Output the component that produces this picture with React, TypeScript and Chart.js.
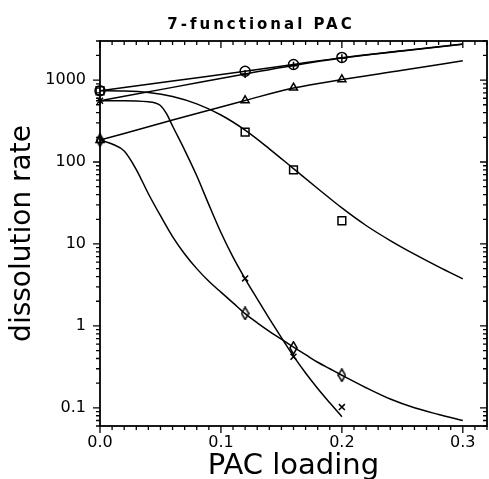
import React, { useEffect, useRef } from "react";
import { Chart, registerables } from "chart.js";

Chart.register(...registerables);

// ---------- axes ----------
const X_MIN = 0;
const X_MAX = 0.32;
const Y_MIN = 0.06;
const Y_MAX = 3000;
const xTickValues = [0, 0.1, 0.2, 0.3];
const yTickValues = [0.1, 1, 10, 100, 1000];

const titleText = "7-functional PAC";
const xTitle = "PAC loading";
const yTitle = "dissolution rate";

// ---------- measured points ----------
const circleX = [0, 0.12, 0.16, 0.2];
const circleY = [741, 1280, 1550, 1890];

const plusX = [0, 0.12, 0.16, 0.2];
const plusY = [560, 1190, 1500, 1850];

const triangleX = [0, 0.12, 0.16, 0.2];
const triangleY = [185, 565, 805, 1020];

const squareX = [0, 0.12, 0.16, 0.2];
const squareY = [741, 232, 80, 19.2];

const crossX = [0, 0.12, 0.16, 0.2];
const crossY = [560, 3.8, 0.42, 0.102];

const diamondX = [0, 0.12, 0.16, 0.2];
const diamondY = [185, 1.42, 0.54, 0.25];

// ---------- model curves ----------
const circleCurveX = [0, 0.06, 0.12, 0.16, 0.2, 0.25, 0.3];
const circleCurveY = [741, 975, 1280, 1545, 1880, 2280, 2750];

const plusCurveX = [0, 0.06, 0.12, 0.16, 0.2, 0.25, 0.3];
const plusCurveY = [560, 815, 1190, 1510, 1860, 2270, 2740];

const triangleCurveX = [0, 0.06, 0.12, 0.16, 0.2, 0.25, 0.3];
const triangleCurveY = [185, 325, 565, 800, 1015, 1315, 1720];

const squareCurveX = [0, 0.02, 0.04, 0.06, 0.08, 0.1, 0.12, 0.14, 0.16, 0.18, 0.2, 0.22, 0.24, 0.26, 0.28, 0.3];
const squareCurveY = [741, 736, 706, 630, 512, 375, 245, 145, 83, 47.5, 27.5, 16.8, 11.0, 7.5, 5.25, 3.75];

const crossCurveX = [0, 0.01, 0.02, 0.03, 0.04, 0.045, 0.05, 0.055, 0.06, 0.07, 0.08, 0.09, 0.1, 0.11, 0.12, 0.13, 0.14, 0.15, 0.16, 0.17, 0.18, 0.19, 0.2];
const crossCurveY = [560, 560, 560, 556, 543, 530, 490, 390, 275, 140, 68, 30.2, 13.8, 6.9, 3.76, 2.14, 1.23, 0.72, 0.427, 0.266, 0.172, 0.115, 0.078];

const diamondCurveX = [0, 0.01, 0.02, 0.03, 0.04, 0.05, 0.06, 0.07, 0.08, 0.09, 0.1, 0.11, 0.12, 0.13, 0.14, 0.15, 0.16, 0.17, 0.18, 0.19, 0.2, 0.22, 0.24, 0.26, 0.28, 0.3];
const diamondCurveY = [185, 166, 136, 81, 41, 22.1, 12.3, 7.55, 5.0, 3.5, 2.58, 1.91, 1.41, 1.09, 0.86, 0.69, 0.55, 0.445, 0.36, 0.3, 0.25, 0.176, 0.128, 0.1, 0.083, 0.07];

const pts = (xs: number[], ys: number[]) => xs.map((x, i) => ({ x, y: ys[i] }));

function makeDiamond(): HTMLCanvasElement {
  const c = document.createElement("canvas");
  c.width = 9;
  c.height = 14;
  const g = c.getContext("2d")!;
  g.strokeStyle = "#000";
  g.lineWidth = 1.5;
  g.beginPath();
  g.moveTo(4.5, 0.8);
  g.lineTo(8.1, 7);
  g.lineTo(4.5, 13.2);
  g.lineTo(0.9, 7);
  g.closePath();
  g.stroke();
  return c;
}

const framePlugin = {
  id: "frameTicks",
  afterDatasetsDraw(chart: any) {
    const { ctx, chartArea, scales } = chart;
    const { left, right, top, bottom } = chartArea;
    const xs = scales.x;
    const ys = scales.y;
    ctx.save();
    ctx.strokeStyle = "#000";
    ctx.lineWidth = 1.8;
    ctx.strokeRect(left, top, right - left, bottom - top);
    ctx.lineWidth = 1.3;
    ctx.beginPath();
    for (let i = 0; i <= 32; i++) {
      const v = i / 100;
      const px = xs.getPixelForValue(v);
      const len = i % 10 === 0 ? 7 : 4;
      ctx.moveTo(px, bottom);
      ctx.lineTo(px, bottom + len);
      ctx.moveTo(px, top);
      ctx.lineTo(px, top + len);
    }
    for (let e = -2; e <= 3; e++) {
      for (let m = 1; m <= 9; m++) {
        const v = m * Math.pow(10, e);
        if (v < Y_MIN || v > Y_MAX) continue;
        const py = ys.getPixelForValue(v);
        const len = m === 1 ? 7 : 4;
        ctx.moveTo(left - len, py);
        ctx.lineTo(left, py);
        ctx.moveTo(right - len, py);
        ctx.lineTo(right, py);
      }
    }
    ctx.stroke();

    ctx.font = 'bold 15px "DejaVu Sans"';
    (ctx as any).letterSpacing = "3px";
    ctx.textAlign = "center";
    ctx.textBaseline = "alphabetic";
    ctx.fillStyle = "#000";
    ctx.fillText(titleText, 261, 29);
    ctx.restore();
  },
};

export default function App() {
  const ref = useRef<HTMLCanvasElement | null>(null);

  useEffect(() => {
    if (!ref.current) return;
    const diamond = makeDiamond();
    const marker = (data: any, style: any, radius: number) => ({
      data,
      showLine: false,
      pointStyle: style,
      pointRadius: radius,
      pointBorderWidth: 1.5,
      borderColor: "#000",
      backgroundColor: "rgba(0,0,0,0)",
      clip: false as any,
    });
    const curve = (data: any) => ({
      data,
      showLine: true,
      borderColor: "#000",
      borderWidth: 1.5,
      pointRadius: 0,
      cubicInterpolationMode: "monotone" as const,
      fill: false,
    });

    const chart = new Chart(ref.current, {
      type: "scatter",
      data: {
        datasets: [
          curve(pts(circleCurveX, circleCurveY)),
          curve(pts(plusCurveX, plusCurveY)),
          curve(pts(triangleCurveX, triangleCurveY)),
          curve(pts(squareCurveX, squareCurveY)),
          curve(pts(crossCurveX, crossCurveY)),
          curve(pts(diamondCurveX, diamondCurveY)),
          marker(pts(circleX, circleY), "circle", 5),
          marker(pts(plusX, plusY), "cross", 4),
          marker(pts(triangleX, triangleY), "triangle", 4.6),
          marker(pts(squareX, squareY), "rect", 5.5),
          marker(pts(crossX, crossY), "crossRot", 4.2),
          marker(pts(diamondX, diamondY), diamond, 5),
        ] as any,
      },
      options: {
        animation: false,
        responsive: false,
        devicePixelRatio: 1,
        layout: { autoPadding: false, padding: { left: 0, right: 2, top: 41, bottom: 0 } },
        plugins: {
          legend: { display: false },
          tooltip: { enabled: false },
          title: { display: false },
        },
        scales: {
          x: {
            type: "linear",
            position: "bottom",
            min: X_MIN,
            max: X_MAX,
            grid: { display: false, drawTicks: false },
            border: { display: false },
            afterBuildTicks: (s: any) => {
              s.ticks = xTickValues.map((v) => ({ value: v }));
            },
            afterFit: (s: any) => {
              s.height = 53;
              s.paddingLeft = 0;
              s.paddingRight = 0;
            },
            ticks: {
              autoSkip: false,
              maxRotation: 0,
              padding: 7,
              color: "#000",
              font: { family: "DejaVu Sans", size: 16 },
              callback: (v: any) => Number(v).toFixed(1),
            },
            title: {
              display: true,
              text: xTitle,
              color: "#000",
              font: { family: "DejaVu Sans", size: 29, lineHeight: 0.8 },
              padding: { top: 0, bottom: 1 },
            },
          },
          y: {
            type: "logarithmic",
            position: "left",
            min: Y_MIN,
            max: Y_MAX,
            grid: { display: false, drawTicks: false },
            border: { display: false },
            afterBuildTicks: (s: any) => {
              s.ticks = yTickValues.map((v) => ({ value: v }));
            },
            afterFit: (s: any) => {
              s.width = 100;
              s.paddingTop = 0;
              s.paddingBottom = 0;
            },
            ticks: {
              autoSkip: false,
              padding: 14,
              color: "#000",
              font: { family: "DejaVu Sans", size: 16 },
              callback: (v: any) => String(Number(v)),
            },
            title: {
              display: true,
              text: yTitle,
              color: "#000",
              font: { family: "DejaVu Sans", size: 28, lineHeight: 0.8 },
              padding: { top: 12, bottom: 0 },
            },
          },
        },
      } as any,
      plugins: [framePlugin],
    });
    return () => chart.destroy();
  }, []);

  return (
    <div style={{ position: "fixed", left: 0, top: 0, width: 489, height: 479, background: "#fff" }}>
      <canvas ref={ref} width={489} height={479} style={{ display: "block", width: 489, height: 479 }} />
    </div>
  );
}
